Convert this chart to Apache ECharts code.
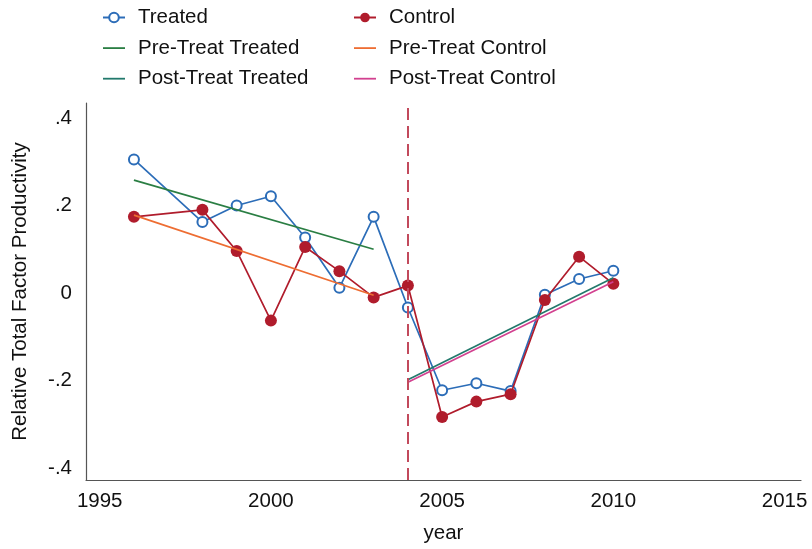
<!DOCTYPE html>
<html>
<head>
<meta charset="utf-8">
<script src="https://cdn.jsdelivr.net/npm/echarts@6/dist/echarts.min.js"></script>
<style>
html,body{margin:0;padding:0;background:#fff;}
#chart{width:812px;height:549px;}
</style>
</head>
<body>
<div id="chart"></div>
<script>
// ---- data ----
const years = [1996, 1998, 1999, 2000, 2001, 2002, 2003, 2004, 2005, 2006, 2007, 2008, 2009, 2010];
const treated = [0.305, 0.162, 0.200, 0.221, 0.127, 0.012, 0.174, -0.033, -0.222, -0.206, -0.224, -0.004, 0.032, 0.051];
const control = [0.174, 0.190, 0.096, -0.063, 0.105, 0.050, -0.010, 0.017, -0.283, -0.248, -0.231, -0.016, 0.083, 0.021];
const preYears = [1996, 2003];
const preTreated = [0.258, 0.100];
const preControl = [0.178, -0.005];
const postYears = [2004, 2010];
const postTreated = [-0.198, 0.035];
const postControl = [-0.204, 0.026];
const treatYear = 2004;
const xTicks = [1995, 2000, 2005, 2010, 2015];
const yTicks = [-0.4, -0.2, 0, 0.2, 0.4];

const zip = (xs, ys) => xs.map((x, i) => [x, ys[i]]);
const FONT = '"Liberation Sans", Arial, Helvetica, sans-serif';
const C = {
  treated: '#2c6db8',
  control: '#b01c2c',
  preT: '#2a7e43',
  preC: '#ee6d32',
  postT: '#22796c',
  postC: '#d2408f',
  vline: '#c24a5c'
};
const LINE_ICON = 'path://M0,0H22V1.8H0Z';

const chart = echarts.init(document.getElementById('chart'), null, {renderer: 'canvas'});
const legendCommon = {
  orient: 'vertical',
  top: 7,
  itemWidth: 22,
  itemHeight: 12,
  itemGap: 9.6,
  padding: 0,
  symbolKeepAspect: true,
  textStyle: {fontFamily: FONT, fontSize: 20.5, color: '#111', lineHeight: 20, padding: [0, 0, 0, 8]}
};
const fmtY = v => {
  if (Math.abs(v) < 1e-9) return '0';
  const s = v.toFixed(1);
  return s.replace('0.', '.');
};
chart.setOption({
  animation: false,
  backgroundColor: '#fff',
  textStyle: {fontFamily: FONT},
  legend: [
    Object.assign({left: 102, data: [
      {name: 'Treated'},
      {name: 'Pre-Treat Treated', icon: LINE_ICON},
      {name: 'Post-Treat Treated', icon: LINE_ICON}
    ]}, legendCommon),
    Object.assign({left: 353, data: [
      {name: 'Control'},
      {name: 'Pre-Treat Control', icon: LINE_ICON},
      {name: 'Post-Treat Control', icon: LINE_ICON}
    ]}, legendCommon)
  ],
  grid: {left: 86, right: 11, top: 103, bottom: 65, containLabel: false},
  xAxis: {
    type: 'value',
    min: 1994.6,
    max: 2015.48,
    name: 'year',
    nameLocation: 'middle',
    nameGap: 43,
    nameTextStyle: {fontFamily: FONT, fontSize: 20.5, color: '#111'},
    axisLine: {show: true, onZero: false, lineStyle: {color: '#555', width: 1.2}},
    axisTick: {show: false},
    splitLine: {show: false},
    axisLabel: {customValues: xTicks, fontFamily: FONT, fontSize: 20.5, color: '#111', margin: 11,
      formatter: v => String(Math.round(v))}
  },
  yAxis: {
    type: 'value',
    min: -0.427,
    max: 0.434,
    name: 'Relative Total Factor Productivity',
    nameLocation: 'middle',
    nameGap: 55,
    nameTextStyle: {fontFamily: FONT, fontSize: 20.5, color: '#111'},
    axisLine: {show: true, onZero: false, lineStyle: {color: '#555', width: 1.2}},
    axisTick: {show: false},
    splitLine: {show: false},
    axisLabel: {customValues: yTicks, fontFamily: FONT, fontSize: 20.5, color: '#111', margin: 14,
      formatter: fmtY}
  },
  series: [
    {
      name: 'Treated', type: 'line', data: zip(years, treated),
      symbol: 'circle', symbolSize: 10,
      lineStyle: {color: C.treated, width: 1.7},
      itemStyle: {color: '#fff', borderColor: C.treated, borderWidth: 2},
      z: 2,
      markLine: {
        silent: true, symbol: 'none', label: {show: false},
        lineStyle: {color: C.vline, type: [12, 6], width: 2},
        data: [{xAxis: treatYear}]
      }
    },
    {
      name: 'Control', type: 'line', data: zip(years, control),
      symbol: 'circle', symbolSize: 12,
      lineStyle: {color: C.control, width: 1.7},
      itemStyle: {color: C.control, borderColor: C.control, borderWidth: 0},
      z: 3
    },
    {name: 'Pre-Treat Treated', type: 'line', data: zip(preYears, preTreated), symbol: 'none',
      lineStyle: {color: C.preT, width: 1.7}, itemStyle: {color: C.preT}, z: 4},
    {name: 'Pre-Treat Control', type: 'line', data: zip(preYears, preControl), symbol: 'none',
      lineStyle: {color: C.preC, width: 1.7}, itemStyle: {color: C.preC}, z: 4},
    {name: 'Post-Treat Treated', type: 'line', data: zip(postYears, postTreated), symbol: 'none',
      lineStyle: {color: C.postT, width: 1.7}, itemStyle: {color: C.postT}, z: 4},
    {name: 'Post-Treat Control', type: 'line', data: zip(postYears, postControl), symbol: 'none',
      lineStyle: {color: C.postC, width: 1.7}, itemStyle: {color: C.postC}, z: 4}
  ]
});
</script>
</body>
</html>
